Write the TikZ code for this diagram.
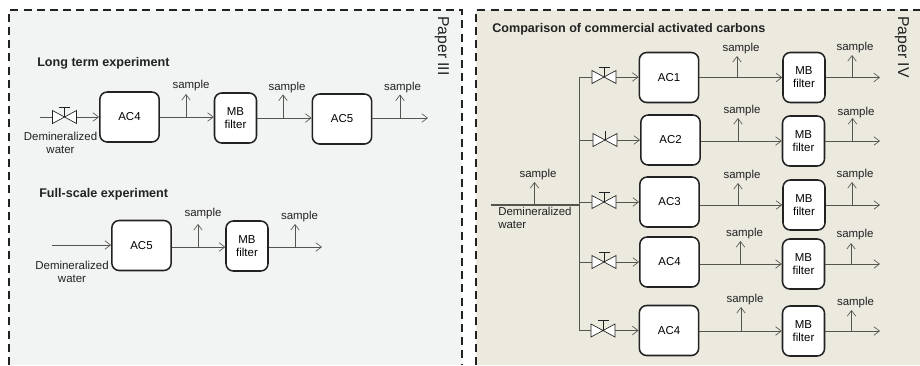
\documentclass[tikz,border=0pt]{standalone}
\usepackage{fontspec}
\setmainfont{Liberation Sans}
\usetikzlibrary{arrows.meta,calc}
\definecolor{paneA}{HTML}{F2F4F3}
\definecolor{paneB}{HTML}{ECE9DF}
\definecolor{flow}{HTML}{555550}
\definecolor{ink}{HTML}{222222}
\tikzset{
  pane/.style={draw=none},
  paneedge/.style={draw=ink,line width=1.2pt,dash pattern=on 6pt off 3.9pt},
  acbox/.style={draw=ink,fill=white,line width=1.15pt,rounded corners=5.5pt,minimum width=44.5pt,minimum height=37.5pt,inner sep=0pt,font=\fontsize{8.6}{10}\selectfont},
  mbbox/.style={draw=ink,fill=white,line width=1.15pt,rounded corners=5.5pt,minimum width=31.5pt,minimum height=37.5pt,inner sep=0pt,align=center,font=\fontsize{8.6}{9.8}\selectfont},
  flowline/.style={draw=flow,line width=0.6pt},
  flowarrow/.style={flowline,-{Straight Barb[length=4.2pt,width=6.4pt,line width=0.5pt]}},
  lbl/.style={inner sep=0pt,text=ink,font=\fontsize{8.6}{9.8}\selectfont,align=center},
  head/.style={inner sep=0pt,anchor=west,text=ink,font=\fontsize{9.45}{11}\selectfont\bfseries},
  papertag/.style={inner sep=0pt,rotate=-90,text=ink,font=\fontsize{11.8}{14}\selectfont},
  valvebody/.style={draw=ink,line width=0.5pt,fill=white},
}
% \valve{name}{x}{y}{draw T bar: 1 or 0}
\newcommand{\valve}[4]{%
  \coordinate (#1) at (#2,#3);
  \coordinate (#1-l) at ($(#1)+(-12,0)$);
  \coordinate (#1-r) at ($(#1)+(12,0)$);
  \draw[valvebody] (#1-l) ++(0,-6.5) -- ++(0,13) -- ++(24,-13) -- ++(0,13) -- cycle;
  \ifnum#4=1
    \draw[valvebody] (#1) -- ++(0,-10);
    \draw[valvebody] ($(#1)+(-5.5,-10)$) -- ($(#1)+(5.5,-10)$);
  \else
    \draw[valvebody] (#1) -- ++(0,-9);
  \fi
}
% \samp{name}{x}{base y}{top y}{label x}{label y}
\newcommand{\samp}[6]{%
  \coordinate (#1-b) at (#2,#3);
  \coordinate (#1-t) at (#2,#4);
  \draw[flowarrow] (#1-b) -- (#1-t);
  \node[lbl] (#1-l) at (#5,#6) {sample};
}
\begin{document}
\begin{tikzpicture}[x=0.75pt,y=-0.75pt]
\useasboundingbox (0,0) rectangle (920,365);
% panels
\fill[paneA] (9,10) rectangle (462,365);
\fill[paneB] (476,10) rectangle (920,365);
\draw[paneedge] (9,365) -- (9,10) -- (462,10) -- (462,365);
\draw[paneedge] (476,365) -- (476,10) -- (920,10);
\node[papertag] (p3) at (442,46) {Paper III};
\node[papertag] (p4) at (902,47) {Paper IV};

% Long term experiment
\node[head] (h1) at (37,63) {Long term experiment};
\node[acbox] (a1) at (129.5,117) {AC4};
\node[mbbox] (m1) at (235.5,118) {MB\\filter};
\node[acbox] (a2) at (342,119) {AC5};
\coordinate (s1) at (40,117);
\coordinate (e1) at (428,118);
\draw[flowline] (s1) -- (53,117);
\valve{v1}{64.5}{117}{1}
\draw[flowarrow] (v1-r) -- (a1.west);
\draw[flowarrow] (a1.east) -- (a1.east -| m1.west);
\draw[flowarrow] (m1.east) -- (m1.east -| a2.west);
\draw[flowarrow] (a2.east |- e1) -- (e1);
\samp{q1}{186}{117}{94}{191}{86}
\samp{q2}{283}{118}{94.5}{287}{88}
\samp{q3}{400}{118}{94.5}{402.5}{88}
\node[lbl] (d1) at (60.5,142.5) {Demineralized\\water};

% Full-scale experiment
\node[head] (h2) at (39,194) {Full-scale experiment};
\node[acbox] (a3) at (141.5,245.5) {AC5};
\node[mbbox] (m2) at (247,246) {MB\\filter};
\coordinate (s2) at (52,245);
\coordinate (e2) at (322,247);
\draw[flowarrow] (s2) -- (s2 -| a3.west);
\draw[flowarrow] (a3.east |- e2) -- (e2 -| m2.west);
\draw[flowarrow] (m2.east |- e2) -- (e2);
\samp{q4}{198}{247}{224}{203}{214}
\samp{q5}{295}{247}{224}{299.5}{217}
\node[lbl] (d2) at (72,271.5) {Demineralized\\water};

% Comparison
\node[head] (h3) at (492,29) {Comparison of commercial activated carbons};
\node[acbox] (b1) at (669,77.5) {AC1};
\node[acbox] (b2) at (670.5,140) {AC2};
\node[acbox] (b3) at (669.5,202) {AC3};
\node[acbox] (b4) at (669.5,262) {AC4};
\node[acbox] (b5) at (669,330.5) {AC4};
\node[mbbox] (c1) at (804,77.5) {MB\\filter};
\node[mbbox] (c2) at (803.5,141) {MB\\filter};
\node[mbbox] (c3) at (804,205) {MB\\filter};
\node[mbbox] (c4) at (803.5,264) {MB\\filter};
\node[mbbox] (c5) at (803.5,331) {MB\\filter};
\coordinate (in) at (491,205);
\coordinate (hub) at (579,205);
\coordinate (top) at (579,77);
\coordinate (bot) at (579,330.5);
\draw[flowline,line width=0.9pt] (in) -- (hub);
\draw[flowline,line width=0.7pt] (top) -- (bot);
\valve{w1}{604}{77}{1}
\valve{w2}{605}{140}{0}
\valve{w3}{604}{202}{1}
\valve{w4}{604}{262}{1}
\valve{w5}{603}{330.5}{1}
\foreach \i in {1,...,5}{
  \draw[flowline] (w\i-l -| top) -- (w\i-l);
  \draw[flowarrow] (w\i-r) -- (w\i-r -| b\i.west);
  \draw[flowarrow] (b\i.east |- c\i.west) -- (c\i.west);
  \coordinate (f\i) at (880,0);
  \draw[flowarrow] (c\i.east) -- (c\i.east -| f\i);
}
\samp{r0}{534.5}{205}{182}{538}{175}
\samp{r1}{737}{77.5}{56}{741}{49}
\samp{r2}{852}{77.5}{55}{855}{48}
\samp{r3}{738}{141}{118}{742}{111}
\samp{r4}{852.5}{141}{118}{856}{112.5}
\samp{r5}{738}{205}{183}{742}{176}
\samp{r6}{852}{205}{182}{855}{175}
\samp{r7}{740.5}{264}{241}{744.5}{234}
\samp{r8}{851}{264}{243}{855}{235}
\samp{r9}{741}{331}{307}{745}{300}
\samp{r10}{851.5}{331}{310}{855.5}{303}
\node[lbl,align=left,anchor=north west] (d3) at (498,207) {Demineralized\\water};
\end{tikzpicture}
\end{document}
